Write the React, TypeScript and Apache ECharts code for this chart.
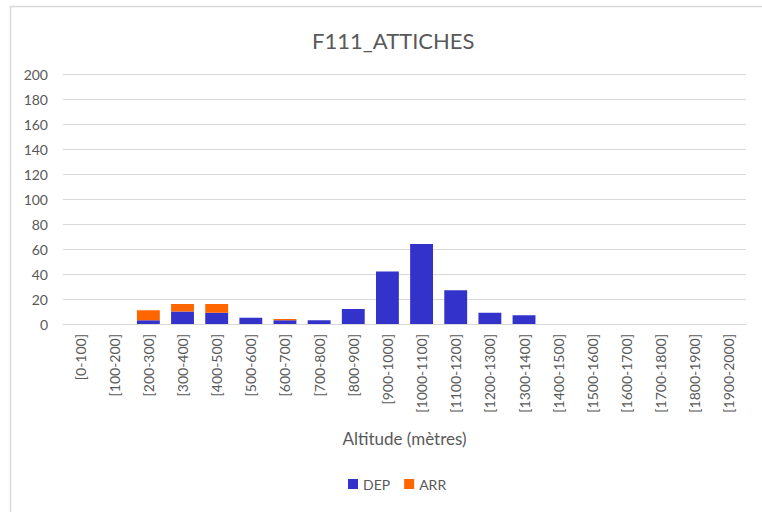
import React, { useEffect, useRef } from "react";
import * as echarts from "echarts";

const title = "F111_ATTICHES";
const categories = [
  "[0-100]", "[100-200]", "[200-300]", "[300-400]", "[400-500]",
  "[500-600]", "[600-700]", "[700-800]", "[800-900]", "[900-1000]",
  "[1000-1100]", "[1100-1200]", "[1200-1300]", "[1300-1400]", "[1400-1500]",
  "[1500-1600]", "[1600-1700]", "[1700-1800]", "[1800-1900]", "[1900-2000]",
];
const depValues = [0, 0, 3, 10, 9, 5, 3, 3, 12, 42, 64, 27, 9, 7, 0, 0, 0, 0, 0, 0];
const arrValues = [0, 0, 8, 6, 7, 0, 1, 0, 0, 0, 0, 0, 0, 0, 0, 0, 0, 0, 0, 0];
const xAxisName = "Altitude (mètres)";

const FONT = "Lato, 'Open Sans', sans-serif";

export default function App() {
  const ref = useRef<HTMLDivElement>(null);
  useEffect(() => {
    if (!ref.current) return;
    const chart = echarts.init(ref.current, null, { renderer: "svg" });
    chart.setOption({
      animation: false,
      backgroundColor: "#ffffff",
      textStyle: { fontFamily: FONT },
      title: {
        text: title,
        left: 307,
        top: 24,
        textStyle: { fontFamily: FONT, fontSize: 22, fontWeight: "normal", color: "#595959" },
      },
      graphic: [
        {
          type: "rect",
          shape: { x: 10.5, y: 6.5, width: 800, height: 600 },
          style: { fill: "none", stroke: "#d9d9d9", lineWidth: 1.5 },
          silent: true,
        },
      ],
      legend: {
        bottom: 16,
        left: 343,
        itemWidth: 10,
        itemHeight: 10,
        itemGap: 14,
        icon: "rect",
        textStyle: { fontFamily: FONT, fontSize: 14, color: "#595959" },
        data: ["DEP", "ARR"],
      },
      grid: { left: 63, right: 16, top: 74, bottom: 188, containLabel: false },
      xAxis: {
        type: "category",
        data: categories,
        name: xAxisName,
        nameLocation: "middle",
        nameGap: 106,
        nameTextStyle: { fontFamily: FONT, fontSize: 17, color: "#595959" },
        axisLine: { lineStyle: { color: "#d9d9d9", width: 1 } },
        axisTick: { show: false },
        axisLabel: {
          rotate: 90,
          interval: 0,
          margin: 10,
          fontFamily: FONT,
          fontSize: 14,
          color: "#595959",
        },
      },
      yAxis: {
        type: "value",
        min: 0,
        max: 200,
        interval: 20,
        axisLine: { show: false },
        axisTick: { show: false },
        splitLine: { lineStyle: { color: "#d9d9d9", width: 1 } },
        axisLabel: { margin: 15, fontFamily: FONT, fontSize: 14, color: "#595959" },
      },
      series: [
        {
          name: "DEP",
          type: "bar",
          stack: "total",
          data: depValues,
          barCategoryGap: "33%",
          itemStyle: { color: "#3333CC" },
        },
        {
          name: "ARR",
          type: "bar",
          stack: "total",
          data: arrValues,
          barCategoryGap: "33%",
          itemStyle: { color: "#FF6600" },
        },
      ],
    });
    return () => chart.dispose();
  }, []);
  return (
    <div
      ref={ref}
      style={{ position: "absolute", left: 0, top: 0, width: 762, height: 512 }}
    />
  );
}
